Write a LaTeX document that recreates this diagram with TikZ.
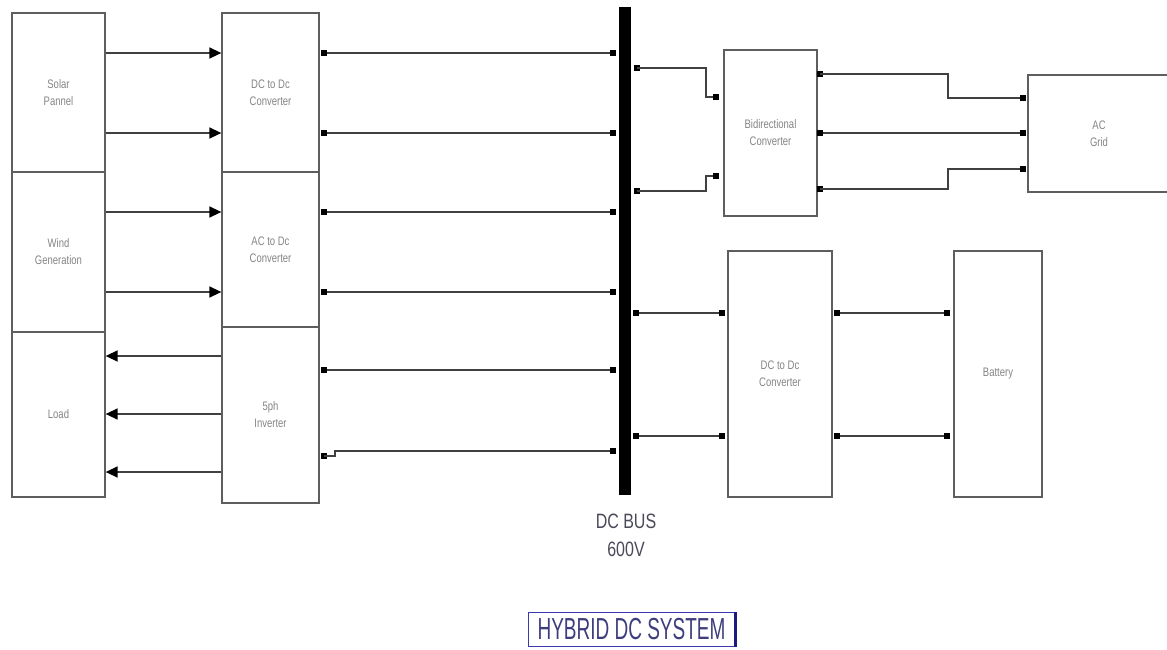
\documentclass[tikz,border=0pt]{standalone}
\usepackage{fontspec}
\setmainfont{Liberation Sans}
\usetikzlibrary{arrows.meta}
\definecolor{boxgray}{HTML}{5E5E5E}
\definecolor{wiregray}{HTML}{404040}
\definecolor{txtgray}{HTML}{858585}
\definecolor{busblue}{HTML}{3A3AB0}
\definecolor{busdark}{HTML}{1A1A80}
\definecolor{titletxt}{HTML}{3E3E7E}
\definecolor{bustxt}{HTML}{4A4A5A}
\newcommand{\vs}[1]{\scalebox{1}[1.3]{#1}}
\begin{document}
\begin{tikzpicture}[x=1pt,y=-1pt,
 blk/.style={draw=boxgray,line width=1.3pt,inner sep=0pt,align=center,
   font=\fontsize{9.5}{17}\selectfont,text=txtgray},
 port/.style={fill=black,draw=none,minimum size=6pt,inner sep=0pt,rectangle},
 wire/.style={draw=wiregray,line width=1.5pt},
 arr/.style={wire,-{Triangle[length=12pt,width=11pt,color=black]}},
 bigtxt/.style={text=bustxt,inner sep=0pt,font=\fontsize{16}{16}\selectfont},
]
\clip (0,0) rectangle (1167,649);
\fill[white] (0,0) rectangle (1167,649);

% left column
\node[blk,minimum width=93pt,minimum height=159pt] (solar) at (58.5,92.5) {\vs{Solar}\\\vs{Pannel}};
\node[blk,minimum width=93pt,minimum height=160pt] (wind) at (58.5,252) {\vs{Wind}\\\vs{Generation}};
\node[blk,minimum width=93pt,minimum height=165pt] (load) at (58.5,414.5) {\vs{Load}};
% converters column
\node[blk,minimum width=97pt,minimum height=159pt] (dcdc1) at (270.5,92.5) {\vs{DC to Dc}\\\vs{Converter}};
\node[blk,minimum width=97pt,minimum height=155pt] (acdc) at (270.5,249.5) {\vs{AC to Dc}\\\vs{Converter}};
\node[blk,minimum width=97pt,minimum height=176pt] (inv) at (270.5,415) {\vs{5ph}\\\vs{Inverter}};
% bus
\node[fill=black,draw=none,inner sep=0pt,minimum width=12pt,minimum height=488pt] (bus) at (625,251) {};
% right side
\node[blk,minimum width=93pt,minimum height=166pt] (bidir) at (770.5,133) {\vs{Bidirectional}\\\vs{Converter}};
\node[blk,minimum width=142pt,minimum height=117pt] (grid) at (1099,133.5) {\vs{AC}\\\vs{Grid}};
\node[blk,minimum width=104pt,minimum height=246pt] (dcdc2) at (780,374) {\vs{DC to Dc}\\\vs{Converter}};
\node[blk,minimum width=88pt,minimum height=246pt] (batt) at (998,374) {\vs{Battery}};

% arrows sources -> converters
\draw[arr] (solar.east |- 0,53) -- (dcdc1.west |- 0,53);
\draw[arr] (solar.east |- 0,133) -- (dcdc1.west |- 0,133);
\draw[arr] (wind.east |- 0,212) -- (acdc.west |- 0,212);
\draw[arr] (wind.east |- 0,292) -- (acdc.west |- 0,292);
% inverter -> load
\draw[arr] (inv.west |- 0,356) -- (load.east |- 0,356);
\draw[arr] (inv.west |- 0,414) -- (load.east |- 0,414);
\draw[arr] (inv.west |- 0,472) -- (load.east |- 0,472);

% ports: converter outputs
\node[port] (q1) at (324,53) {};
\node[port] (q2) at (324,133) {};
\node[port] (q3) at (324,212) {};
\node[port] (q4) at (324,292) {};
\node[port] (q5) at (324,370) {};
\node[port] (q6) at (324,456) {};
% ports: bus left
\node[port] (l1) at (613,53) {};
\node[port] (l2) at (613,133) {};
\node[port] (l3) at (613,212) {};
\node[port] (l4) at (613,292) {};
\node[port] (l5) at (613,370) {};
\node[port] (l6) at (613,451) {};
% ports: bus right
\node[port] (r1) at (637,68) {};
\node[port] (r2) at (637,191) {};
\node[port] (r3) at (636,313) {};
\node[port] (r4) at (636,436) {};
% bidirectional ports
\node[port] (b1) at (716,97) {};
\node[port] (b2) at (716,176) {};
\node[port] (o1) at (820,74) {};
\node[port] (o2) at (820,133) {};
\node[port] (o3) at (820,189) {};
% grid ports
\node[port] (g1) at (1023,98) {};
\node[port] (g2) at (1023,133) {};
\node[port] (g3) at (1023,169) {};
% dcdc2 / battery ports
\node[port] (d1) at (722,313) {};
\node[port] (d2) at (722,436) {};
\node[port] (e1) at (837,313) {};
\node[port] (e2) at (837,436) {};
\node[port] (f1) at (947,313) {};
\node[port] (f2) at (947,436) {};

% wires to bus
\draw[wire] (q1) -- (l1);
\draw[wire] (q2) -- (l2);
\draw[wire] (q3) -- (l3);
\draw[wire] (q4) -- (l4);
\draw[wire] (q5) -- (l5);
\draw[wire] (q6.center) -- ++(11,0) |- (l6);
% bus to bidirectional
\draw[wire] (r1.center) -- ++(69,0) |- (b1);
\draw[wire] (r2.center) -- ++(69,0) |- (b2);
% bidirectional to grid
\draw[wire] (o1.center) -- ++(128,0) |- (g1);
\draw[wire] (o2) -- (g2);
\draw[wire] (o3.center) -- ++(128,0) |- (g3);
% bus to dcdc2 to battery
\draw[wire] (r3) -- (d1);
\draw[wire] (r4) -- (d2);
\draw[wire] (e1) -- (f1);
\draw[wire] (e2) -- (f2);

% bus label
\node[bigtxt] (buslbl) at (626,521) {\scalebox{1}[1.3]{DC BUS}};
\node[bigtxt] (busv) at (626,549) {\scalebox{1}[1.3]{600V}};

% title
\node[draw=busblue,line width=1pt,inner sep=0pt,minimum width=207pt,minimum height=34pt,
  text=titletxt,font=\fontsize{19}{19}\selectfont] (title) at (631.5,629) {\scalebox{1}[1.6]{HYBRID DC SYSTEM}};
\draw[busdark,line width=3pt] (title.north east) -- (title.south east);
\end{tikzpicture}
\end{document}
